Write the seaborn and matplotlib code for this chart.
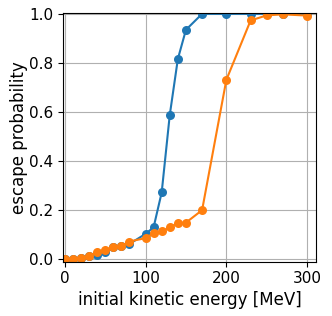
import matplotlib
matplotlib.use("Agg")
import matplotlib.pyplot as plt
import seaborn as sns
import pandas as pd

energy = [0, 10, 20, 30, 40, 50, 60, 70, 80, 100, 110, 120, 130, 140, 150, 170, 200, 230, 250, 270, 300]
prob_blue = [0.0, 0.001, 0.005, 0.013, 0.018, 0.028, 0.049, 0.053, 0.062, 0.103, 0.130, 0.272,
             0.588, 0.816, 0.935, 1.0, 1.0, 1.0, 1.0, 1.0, 1.0]
prob_orange = [0.0, 0.001, 0.005, 0.013, 0.029, 0.038, 0.049, 0.053, 0.072, 0.086, 0.106, 0.113,
               0.130, 0.147, 0.149, 0.200, 0.731, 0.973, 0.994, 0.998, 0.993]

df = pd.DataFrame({
    "energy": energy * 2,
    "prob": prob_blue + prob_orange,
    "series": ["a"] * len(energy) + ["b"] * len(energy),
})

fig = plt.figure(figsize=(3.32, 3.16), dpi=100)
ax = fig.add_axes([0.19, 0.172, 0.762, 0.788])
sns.lineplot(data=df, x="energy", y="prob", hue="series", palette=["#1f77b4", "#ff7f0e"],
             marker="o", markersize=6.5, markeredgewidth=0, linewidth=1.5, legend=False, ax=ax)
ax.grid(True, color="#b0b0b0", linewidth=0.8)
ax.set_xlim(-2, 311)
ax.set_ylim(-0.01, 1.005)
ax.set_xticks([0, 100, 200, 300])
ax.set_yticks([0.0, 0.2, 0.4, 0.6, 0.8, 1.0])
ax.tick_params(labelsize=11)
ax.set_xlabel("initial kinetic energy [MeV]", fontsize=12, labelpad=3)
ax.set_ylabel("escape probability", fontsize=12, labelpad=1)
fig.savefig("out.png", dpi=100)
